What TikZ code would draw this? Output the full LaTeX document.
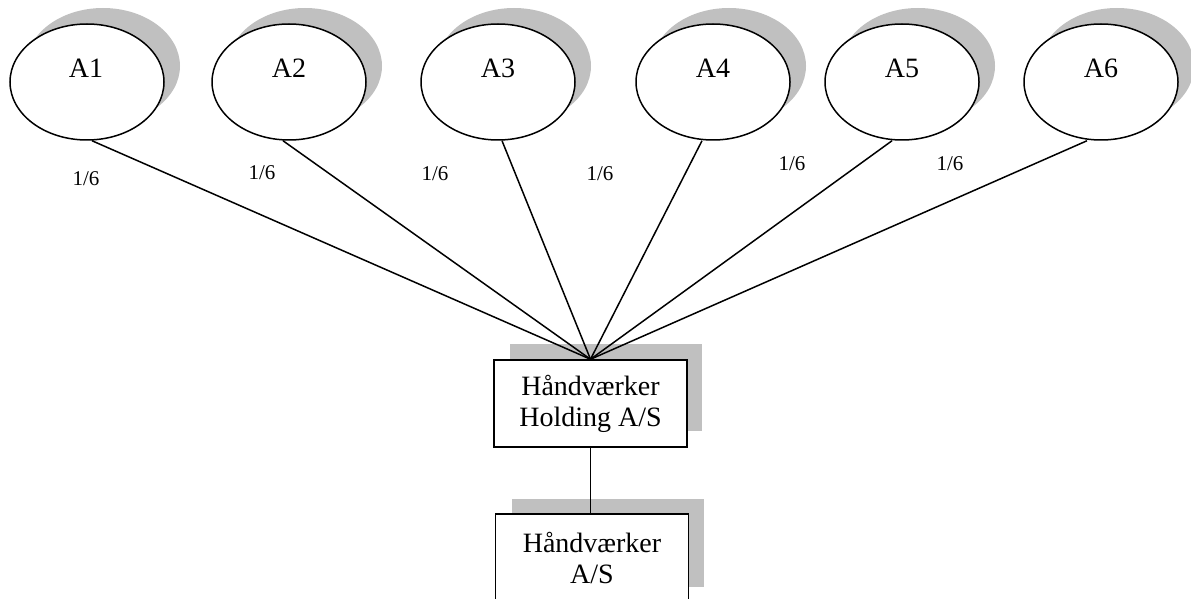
\documentclass[tikz,border=0pt]{standalone}
\usepackage{fontspec}
\setmainfont{Liberation Serif}
\usetikzlibrary{shapes.geometric}
\definecolor{shadowgray}{RGB}{192,192,192}
\tikzset{
  owner/.style={ellipse, draw=black, line width=1.5pt, fill=white,
    minimum width=154pt, minimum height=116pt, inner sep=0pt},
  ownername/.style={anchor=base, font=\fontsize{28}{33}\selectfont, inner sep=0pt},
  company/.style={rectangle, draw=black, line width=1.5pt, fill=white,
    minimum width=193pt, minimum height=87pt, inner sep=0pt, align=center,
    font=\fontsize{28}{31}\selectfont},
  share/.style={anchor=base, font=\fontsize{21}{24}\selectfont, inner sep=0pt},
  link/.style={draw=black, line width=1.5pt},
}
\begin{document}
\begin{tikzpicture}[x=1pt, y=-1pt]
\useasboundingbox (0,0) rectangle (1191,599);

% drop shadows behind the owners and the two companies
\foreach \cx in {87,289,498,713,902,1101}
  \fill[shadowgray] (\cx+16,66) ellipse [x radius=77pt, y radius=58pt];
\fill[shadowgray] (510,344) rectangle (702,431);
\fill[shadowgray] (512,499) rectangle (704,587);

% owners
\node[owner] (a1) at (87,82) {};
\node[owner] (a2) at (289,82) {};
\node[owner] (a3) at (498,82) {};
\node[owner] (a4) at (713,82) {};
\node[owner] (a5) at (902,82) {};
\node[owner] (a6) at (1101,82) {};
\node[ownername] (t1) at (86,78) {A1};
\node[ownername] (t2) at (289,78) {A2};
\node[ownername] (t3) at (498,78) {A3};
\node[ownername] (t4) at (713,78) {A4};
\node[ownername] (t5) at (902,78) {A5};
\node[ownername] (t6) at (1101,78) {A6};

% companies
\node[company] (hold) at (590.5,403.5) {Håndværker\\Holding A/S};
\node[company] (firm) at (592,557.5) {Håndværker\\A/S};

% ownership lines
\draw[link] ([xshift=5pt]a1.south) -- (hold.north);
\draw[link] ([xshift=-6pt]a2.south) -- (hold.north);
\draw[link] ([xshift=4pt]a3.south) -- (hold.north);
\draw[link] ([xshift=-11pt]a4.south) -- (hold.north);
\draw[link] ([xshift=-10pt]a5.south) -- (hold.north);
\draw[link] ([xshift=-14pt]a6.south) -- (hold.north);
\draw[link] (hold.south) -- (hold.south |- firm.north);

% shares
\node[share] (s1) at (86,185) {1/6};
\node[share] (s2) at (262,179) {1/6};
\node[share] (s3) at (435,180) {1/6};
\node[share] (s4) at (600,180) {1/6};
\node[share] (s5) at (792,171) {1/6};
\node[share] (s6) at (950,171) {1/6};
\end{tikzpicture}
\end{document}
